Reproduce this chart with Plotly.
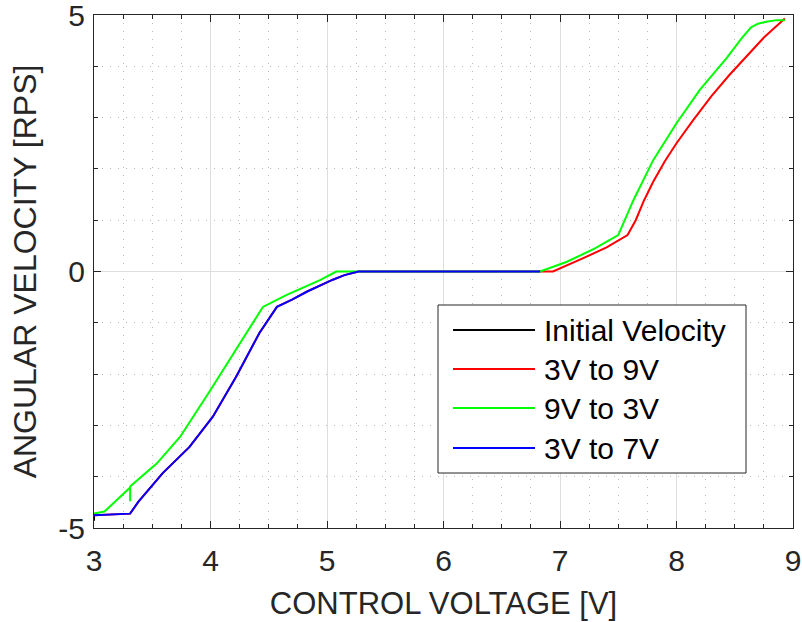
import plotly.graph_objects as go

# ---- data ----
init_x = [3.00, 3.00]
init_y = [-4.72, -4.86]

up9_x = [3.00, 3.10, 3.20, 3.31, 3.38, 3.59, 3.82, 4.02, 4.22, 4.42, 4.57, 4.70, 4.83, 4.95, 5.05, 5.15, 5.27,
         6.00, 6.94, 7.20, 7.40, 7.58, 7.65, 7.72, 7.80, 7.90, 8.00, 8.14, 8.30, 8.45, 8.60, 8.75, 8.93]
up9_y = [-4.75, -4.74, -4.74, -4.72, -4.49, -3.93, -3.42, -2.83, -2.05, -1.20, -0.69, -0.55, -0.39, -0.26, -0.16, -0.07, 0.0,
         0.0, 0.0, 0.26, 0.47, 0.71, 1.00, 1.38, 1.75, 2.15, 2.50, 2.94, 3.42, 3.82, 4.18, 4.56, 4.93]

down3_x = [8.93, 8.86, 8.77, 8.70, 8.64, 8.56, 8.43, 8.20, 8.00, 7.80, 7.63, 7.50, 7.30, 7.06, 6.83,
           6.00, 5.08, 4.94, 4.65, 4.45, 4.22, 4.00, 3.74, 3.54, 3.31, 3.31, 3.31, 3.09, 3.01, 3.00]
down3_y = [4.90, 4.90, 4.87, 4.83, 4.76, 4.55, 4.16, 3.54, 2.89, 2.17, 1.39, 0.71, 0.45, 0.19, 0.0,
           0.0, 0.0, -0.17, -0.46, -0.69, -1.53, -2.31, -3.22, -3.74, -4.19, -4.48, -4.21, -4.68, -4.71, -4.72]

up7_x = [3.00, 3.10, 3.20, 3.31, 3.38, 3.59, 3.82, 4.02, 4.22, 4.42, 4.57, 4.70, 4.83, 4.95, 5.05, 5.15, 5.27, 6.00, 6.83]
up7_y = [-4.75, -4.74, -4.74, -4.72, -4.49, -3.93, -3.42, -2.83, -2.05, -1.20, -0.69, -0.55, -0.39, -0.26, -0.16, -0.07, 0.0, 0.0, 0.0]

series_names = ["Initial Velocity", "3V to 9V", "9V to 3V", "3V to 7V"]
series_colors = ["#000000", "#ff0000", "#00ff00", "#0000ff"]
series_x = [init_x, up9_x, down3_x, up7_x]
series_y = [init_y, up9_y, down3_y, up7_y]

x_ticks = [3, 4, 5, 6, 7, 8, 9]
y_ticks = [-5, 0, 5]

FONT = "Liberation Sans, Arial, Helvetica, sans-serif"
AX = "#262626"

fig = go.Figure()
for nm, col, xs, ys in zip(series_names, series_colors, series_x, series_y):
    fig.add_trace(go.Scatter(x=xs, y=ys, mode="lines", name=nm,
                             line=dict(color=col, width=2), showlegend=False))

axis_common = dict(
    showline=True, linecolor=AX, linewidth=1, mirror="allticks",
    ticks="inside", ticklen=7, tickcolor=AX, tickwidth=1,
    showgrid=True, gridcolor="#dedede", gridwidth=1,
    zeroline=False, automargin=False, ticklabeloverflow="allow",
    tickfont=dict(family=FONT, size=30, color=AX),
)

fig.update_xaxes(
    range=[3, 9], tickvals=x_ticks, ticktext=[str(v) for v in x_ticks],
    minor=dict(dtick=0.25, ticks="inside", ticklen=4, tickcolor=AX, showgrid=True,
               gridcolor="#b8b8b8", griddash="1px,7px", gridwidth=1),
    title=dict(text="CONTROL VOLTAGE [V]", font=dict(family=FONT, size=31, color=AX), standoff=16),
    ticklabelstandoff=6,
    **axis_common,
)
fig.update_yaxes(
    range=[-5, 5], tickvals=y_ticks, ticktext=[str(v) for v in y_ticks],
    minor=dict(dtick=1, ticks="inside", ticklen=4, tickcolor=AX, showgrid=True,
               gridcolor="#b8b8b8", griddash="1px,7px", gridwidth=1),
    title=dict(text="ANGULAR VELOCITY [RPS]", font=dict(family=FONT, size=32, color=AX), standoff=12),
    ticklabelstandoff=2,
    **axis_common,
)

# ---- legend drawn manually (MATLAB style) ----
L, R, B, T = 94, 793, 528, 15
W, H = R - L, B - T
def px(x):
    return (x - L) / W
def py(y):
    return (B - y) / H

shapes = [dict(type="rect", xref="paper", yref="paper",
               x0=px(438), x1=px(746), y0=py(473), y1=py(305),
               fillcolor="white", line=dict(color=AX, width=1), layer="above")]
annotations = []
rows = [330, 369, 408, 448]
for nm, col, ry in zip(series_names, series_colors, rows):
    shapes.append(dict(type="line", xref="paper", yref="paper",
                       x0=px(453), x1=px(535), y0=py(ry), y1=py(ry),
                       line=dict(color=col, width=2), layer="above"))
    annotations.append(dict(xref="paper", yref="paper", x=px(542), y=py(ry),
                            text=nm, showarrow=False, xanchor="left", yanchor="middle",
                            font=dict(family=FONT, size=30, color="#000000")))

fig.update_layout(
    width=802, height=622,
    margin=dict(l=L, r=802 - R, t=T, b=622 - B),
    paper_bgcolor="white", plot_bgcolor="white",
    shapes=shapes, annotations=annotations,
    showlegend=False,
)

fig.write_html("out.html")
